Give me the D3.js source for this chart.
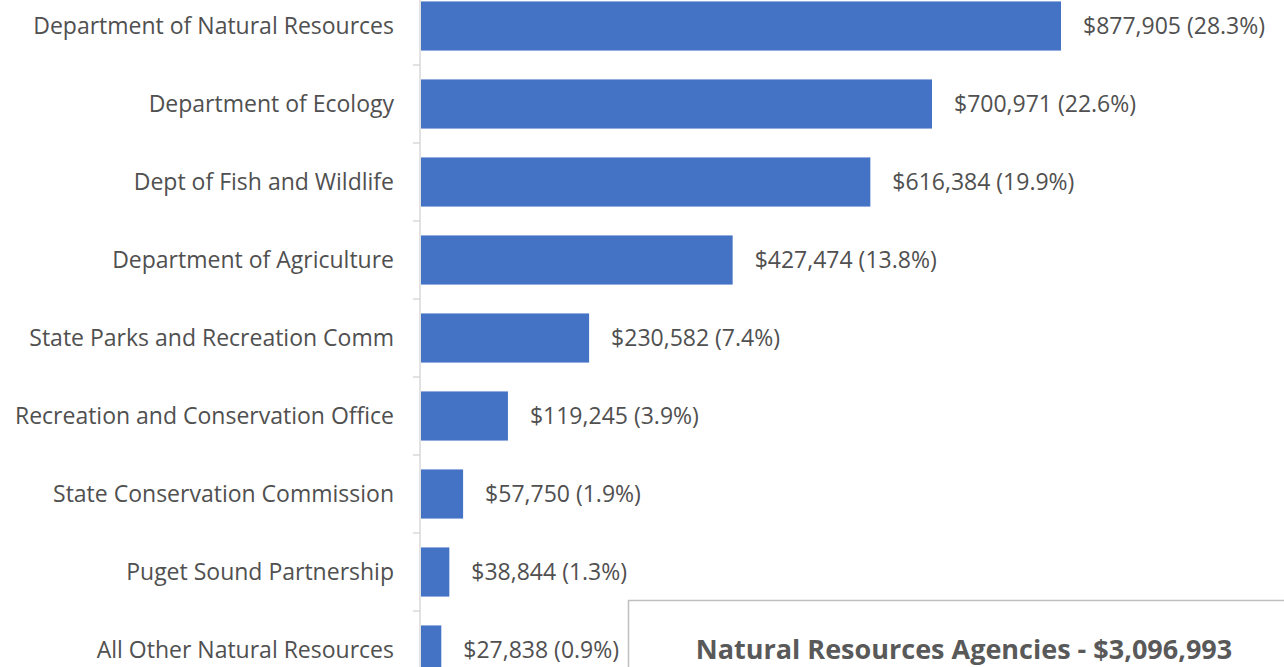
<!DOCTYPE html>
<html lang="en">
<head>
    <meta charset="UTF-8">
    <title>Natural Resources Agencies</title>
    <script src="https://d3js.org/d3.v7.min.js"></script>
    <style>
        body { margin: 0; background: white; font-family: "Open Sans", sans-serif; }
        svg { display: block; }
        .cat-label { font-size: 23px; fill: #505050; }
        .val-label { font-size: 23px; fill: #505050; }
        .box-title { font-size: 27px; font-weight: bold; fill: #595959; }
    </style>
</head>
<body>
<svg width="1284" height="667"></svg>
<script>
    // Chart data
    const agencies = [
        "Department of Natural Resources",
        "Department of Ecology",
        "Dept of Fish and Wildlife",
        "Department of Agriculture",
        "State Parks and Recreation Comm",
        "Recreation and Conservation Office",
        "State Conservation Commission",
        "Puget Sound Partnership",
        "All Other Natural Resources"
    ];
    const amounts = [877905, 700971, 616384, 427474, 230582, 119245, 57750, 38844, 27838];
    const shares = [28.3, 22.6, 19.9, 13.8, 7.4, 3.9, 1.9, 1.3, 0.9];
    const totalTitle = "Natural Resources Agencies - $3,096,993";

    const svg = d3.select("svg");
    const left = 420;

    const y = d3.scaleBand()
        .domain(agencies)
        .range([-13, 689])
        .paddingInner(0.37)
        .paddingOuter(0.185);

    const x = d3.scaleLinear()
        .domain([0, 877905])
        .range([0, 640]);

    const fmt = d3.format("$,");

    // Bars
    svg.append("g")
        .selectAll("rect")
        .data(agencies)
        .enter().append("rect")
        .attr("x", left + 1)
        .attr("y", (d) => y(d))
        .attr("width", (d, i) => x(amounts[i]))
        .attr("height", y.bandwidth())
        .attr("fill", "#4472c4");

    // Value labels
    svg.append("g")
        .selectAll("text")
        .data(agencies)
        .enter().append("text")
        .attr("class", "val-label")
        .attr("x", (d, i) => left + 1 + x(amounts[i]) + 22)
        .attr("y", (d) => y(d) + y.bandwidth() / 2)
        .attr("dy", "0.33em")
        .text((d, i) => `${fmt(amounts[i])} (${shares[i].toFixed(1)}%)`);

    // Axis line and category ticks
    const axis = svg.append("g");
    axis.append("line")
        .attr("x1", left).attr("x2", left)
        .attr("y1", 0).attr("y2", 667)
        .attr("stroke", "#d9d9d9").attr("stroke-width", 1.5);

    const step = y.step();
    axis.selectAll(".tick")
        .data(agencies.slice(1))
        .enter().append("line")
        .attr("x1", left - 7).attr("x2", left)
        .attr("y1", (d) => y(d) - (step - y.bandwidth()) / 2)
        .attr("y2", (d) => y(d) - (step - y.bandwidth()) / 2)
        .attr("stroke", "#d9d9d9").attr("stroke-width", 1.5);

    // Category labels
    axis.selectAll(".cat-label")
        .data(agencies)
        .enter().append("text")
        .attr("class", "cat-label")
        .attr("x", left - 26)
        .attr("y", (d) => y(d) + y.bandwidth() / 2)
        .attr("dy", "0.33em")
        .attr("text-anchor", "end")
        .text((d) => d);

    // Total box
    const box = svg.append("g");
    box.append("rect")
        .attr("x", 628.5).attr("y", 600.5)
        .attr("width", 700).attr("height", 100)
        .attr("fill", "white")
        .attr("stroke", "#bfbfbf").attr("stroke-width", 1.5);
    box.append("text")
        .attr("class", "box-title")
        .attr("x", 964).attr("y", 659)
        .attr("text-anchor", "middle")
        .text(totalTitle);
</script>
</body>
</html>
